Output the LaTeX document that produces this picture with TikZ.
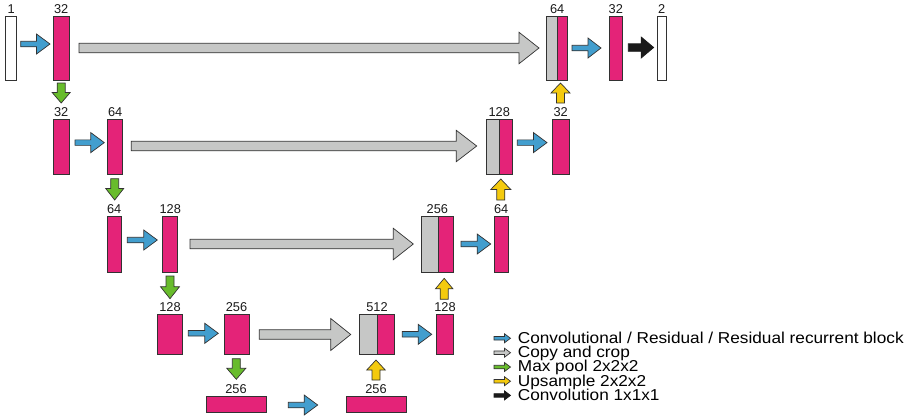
\documentclass[tikz,border=0pt]{standalone}
\usepackage{fontspec}
\setmainfont{Liberation Sans}
\usetikzlibrary{calc}
\definecolor{upink}{RGB}{228,35,120}
\definecolor{ugray}{RGB}{198,199,198}
\definecolor{ublue}{RGB}{66,158,206}
\definecolor{ugreen}{RGB}{104,188,44}
\definecolor{uyellow}{RGB}{244,202,14}
\definecolor{ublack}{RGB}{26,26,26}
\definecolor{edge}{RGB}{50,50,50}
\definecolor{labtext}{RGB}{25,25,25}
\tikzset{
  box/.style={draw=edge, line width=0.8pt, inner sep=0pt, outer sep=0pt, anchor=north west},
  pinkbox/.style={box, fill=upink},
  whitebox/.style={box, fill=white},
  graybox/.style={box, fill=ugray},
  lab/.style={font=\fontsize{12.8}{13}\selectfont, inner sep=0pt, anchor=base, text=labtext},
  leg/.style={font=\fontsize{15.8}{16}\selectfont, inner sep=0pt, anchor=base west, text=black},
  conv/.style={fill=ublue, draw=edge, line width=0.7pt},
  copyc/.style={fill=ugray, draw=edge, line width=0.7pt},
  pool/.style={fill=ugreen, draw=edge, line width=0.7pt},
  upsm/.style={fill=uyellow, draw=edge, line width=0.7pt},
  onex/.style={fill=ublack, draw=ublack, line width=0.7pt},
  pics/barrow/.style n args={4}{code={
    \path[pic actions] (0,{-#2/2}) -- ({#1-#4},{-#2/2}) -- ({#1-#4},{-#3/2}) -- (#1,0)
      -- ({#1-#4},{#3/2}) -- ({#1-#4},{#2/2}) -- (0,{#2/2}) -- cycle;
  }},
}
\newcommand{\bx}[6]{% style, name, x1, x2, ytop, ybot
  \node[#1, minimum width={(#4-#3)*1pt}, minimum height={(#6-#5)*1pt}] (#2) at (#3,#5) {};}
\begin{document}
\begin{tikzpicture}[x=1pt,y=-1pt]
\useasboundingbox (0,0) rectangle (910,418);
% ---------- level 0
\bx{whitebox}{in0}{5.7}{16.7}{16.7}{80}
\bx{pinkbox}{e0a}{53.3}{69}{16.7}{80}
\bx{graybox}{c0g}{546.7}{557.3}{16.7}{80}
\bx{pinkbox}{c0p}{557.3}{567.7}{16.7}{80}
\bx{pinkbox}{d0}{609.3}{622.3}{16.7}{80}
\bx{whitebox}{out0}{657}{666.3}{16.7}{80}
\node[lab] (l01) at (11.2,13.8) {1};
\node[lab] (l02) at (61.2,13.8) {32};
\node[lab] (l03) at (557.2,13.8) {64};
\node[lab] (l04) at (615.8,13.8) {32};
\node[lab] (l05) at (661.6,13.8) {2};
% ---------- level 1
\bx{pinkbox}{e1a}{53.3}{69}{119}{174}
\bx{pinkbox}{e1b}{107.7}{122.7}{119}{174}
\bx{graybox}{c1g}{486}{499.3}{119}{174}
\bx{pinkbox}{c1p}{499.3}{512.7}{119}{174}
\bx{pinkbox}{d1}{552.3}{569}{119}{174}
\node[lab] (l11) at (61.2,116) {32};
\node[lab] (l12) at (115.2,116) {64};
\node[lab] (l13) at (499.3,116) {128};
\node[lab] (l14) at (560.7,116) {32};
% ---------- level 2
\bx{pinkbox}{e2a}{107.3}{121}{216.7}{272}
\bx{pinkbox}{e2b}{162.7}{177.7}{216.7}{272}
\bx{graybox}{c2g}{421.5}{438.3}{216.7}{272}
\bx{pinkbox}{c2p}{438.3}{453.3}{216.7}{272}
\bx{pinkbox}{d2}{494.3}{508}{216.7}{272}
\node[lab] (l21) at (114.2,213.7) {64};
\node[lab] (l22) at (170.2,213.7) {128};
\node[lab] (l23) at (437.4,213.7) {256};
\node[lab] (l24) at (501.2,213.7) {64};
% ---------- level 3
\bx{pinkbox}{e3a}{157.3}{182.7}{314.5}{354.5}
\bx{pinkbox}{e3b}{224}{249}{314.5}{354.5}
\bx{graybox}{c3g}{359.3}{377.3}{314.5}{354.5}
\bx{pinkbox}{c3p}{377.3}{394.7}{314.5}{354.5}
\bx{pinkbox}{d3}{436.7}{453.3}{314.5}{354.5}
\node[lab] (l31) at (170,311.5) {128};
\node[lab] (l32) at (236.5,311.5) {256};
\node[lab] (l33) at (377,311.5) {512};
\node[lab] (l34) at (445,311.5) {128};
% ---------- level 4
\bx{pinkbox}{b1}{206}{266}{396}{412.3}
\bx{pinkbox}{b2}{346}{406}{396}{412.3}
\node[lab] (l41) at (236,393) {256};
\node[lab] (l42) at (376,393) {256};
% ---------- copy and crop arrows
\pic[copyc] at (79,48) {barrow={460}{9.5}{31.5}{20}};
\pic[copyc] at (131.3,146) {barrow={345.4}{9.5}{31.5}{20.5}};
\pic[copyc] at (190,244) {barrow={223.3}{9.5}{31.5}{20}};
\pic[copyc] at (259.3,334.5) {barrow={91.4}{9.5}{32}{20}};
% ---------- conv arrows
\pic[conv] at (20.7,44) {barrow={29.3}{5.5}{20}{13.5}};
\pic[conv] at (572,48) {barrow={29}{5.5}{20}{13}};
\pic[conv] at (75,142.6) {barrow={29.3}{5.5}{20}{13.5}};
\pic[conv] at (517.3,142.6) {barrow={29.7}{5.5}{20}{13.5}};
\pic[conv] at (127.3,240) {barrow={30}{5.5}{20}{13.5}};
\pic[conv] at (461,244) {barrow={29.7}{5.5}{20}{13.5}};
\pic[conv] at (188.3,333.3) {barrow={30}{5.5}{20}{13.5}};
\pic[conv] at (402.3,334.3) {barrow={29.4}{5.5}{20}{13.5}};
\pic[conv] at (288.3,405) {barrow={29.4}{5.5}{20}{13.5}};
% ---------- 1x1x1
\pic[onex] at (628.3,47.5) {barrow={25.4}{7.5}{21}{12.5}};
% ---------- max pool
\pic[pool, rotate=-90] at (61.2,83) {barrow={20}{8}{18}{10.5}};
\pic[pool, rotate=-90] at (114.7,178.7) {barrow={21.3}{8}{18}{11.5}};
\pic[pool, rotate=-90] at (170,276) {barrow={22.7}{8}{19}{12}};
\pic[pool, rotate=-90] at (236.3,358.7) {barrow={20.6}{8}{19}{11}};
% ---------- upsample
\pic[upsm, rotate=90] at (560.5,103) {barrow={20}{8}{19}{10}};
\pic[upsm, rotate=90] at (500.8,200) {barrow={21}{8}{20}{10.5}};
\pic[upsm, rotate=90] at (444.2,299.3) {barrow={21}{8}{17.5}{10.5}};
\pic[upsm, rotate=90] at (376,380) {barrow={20}{8}{18.5}{10}};
% ---------- legend
\pic[conv] at (494,338.3) {barrow={16.5}{3.5}{9}{6}};
\pic[copyc] at (494,352.7) {barrow={16.5}{3.5}{9}{6}};
\pic[pool] at (494,367) {barrow={16.5}{3.5}{9}{6}};
\pic[upsm] at (494,381.2) {barrow={16.5}{3.5}{9}{6}};
\pic[onex] at (494,395.4) {barrow={16.5}{3.5}{9}{6}};
\node[leg] (t1) at (517.7,343.3) {\scalebox{1.09}[1]{Convolutional / Residual / Residual recurrent block}};
\node[leg] (t2) at (517.7,357.6) {\scalebox{1.09}[1]{Copy and crop}};
\node[leg] (t3) at (517.7,371.9) {\scalebox{1.09}[1]{Max pool 2x2x2}};
\node[leg] (t4) at (517.7,386.1) {\scalebox{1.09}[1]{Upsample 2x2x2}};
\node[leg] (t5) at (517.7,400.3) {\scalebox{1.09}[1]{Convolution 1x1x1}};
\end{tikzpicture}
\end{document}
